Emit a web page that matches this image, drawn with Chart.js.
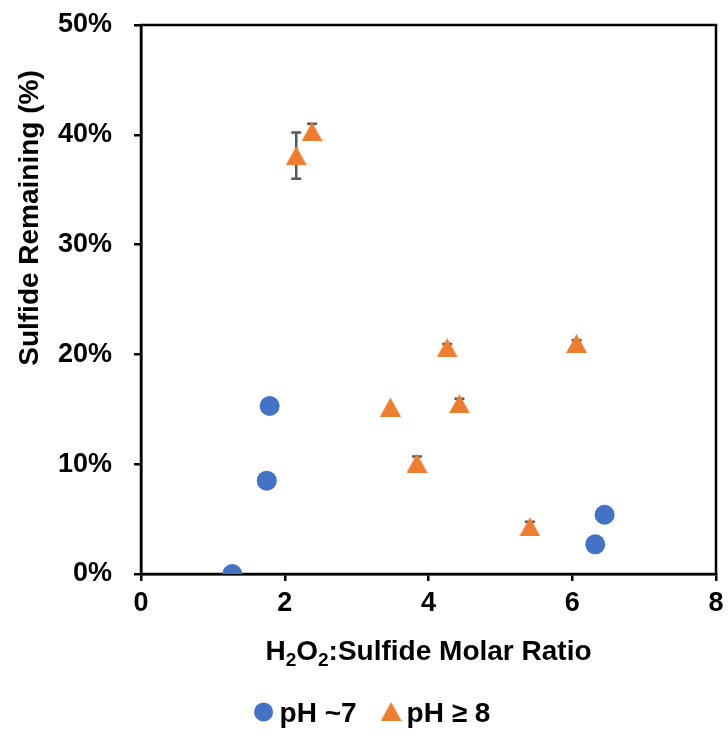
<!DOCTYPE html>
<html>
<head>
<meta charset="utf-8">
<script src="https://cdn.jsdelivr.net/npm/chart.js@4.4.0/dist/chart.umd.min.js"></script>
<style>
  html, body { margin: 0; padding: 0; background: #fff; }
</style>
</head>
<body>
<canvas id="c" width="728" height="742"></canvas>
<script>
/* ── data ── */
const SERIES_NAMES = ['pH ~7', 'pH \u2265 8'];

// pH ~7 (blue circles)
const neutralRatio  = [1.27, 1.75, 1.79, 6.32, 6.45];
const neutralRemain = [0.0, 8.5, 15.3, 2.7, 5.4];

// pH >= 8 (orange triangles)
const basicRatio  = [2.16, 2.38, 3.47, 3.84, 4.26, 4.43, 5.41, 6.06];
const basicRemain = [38.1, 40.3, 15.2, 10.1, 20.6, 15.5, 4.3, 21.0];
const basicError  = [2.1, 0.7, 0.0, 0.6, 0.35, 0.45, 0.45, 0.3];

const X_TICKS = [0, 2, 4, 6, 8];
const Y_TICKS = [0, 10, 20, 30, 40, 50];

const COLORS = {
  blue: '#4472c4',
  orange: '#ed7d31',
  err: '#595959',
  axis: '#000000',
};
const FONT = "'Liberation Sans', Arial, sans-serif";

// Excel-style triangle marker (centred on its bounding box)
function triangleMarker(w, h, color) {
  const cv = document.createElement('canvas');
  cv.width = w; cv.height = h;
  const g = cv.getContext('2d');
  g.fillStyle = color;
  g.beginPath();
  g.moveTo(w / 2, 0); g.lineTo(w, h); g.lineTo(0, h);
  g.closePath(); g.fill();
  return cv;
}
const TRI = triangleMarker(21, 19, COLORS.orange);

/* ── error bars, drawn behind the markers ── */
const errorBars = {
  id: 'errorBars',
  beforeDatasetsDraw(chart) {
    const { ctx, scales: { x, y } } = chart;
    ctx.save();
    ctx.strokeStyle = COLORS.err;
    ctx.lineWidth = 2.5;
    basicRatio.forEach((r, i) => {
      if (!basicError[i]) return;
      const px = x.getPixelForValue(r);
      const top = y.getPixelForValue(basicRemain[i] + basicError[i]);
      const bot = y.getPixelForValue(basicRemain[i] - basicError[i]);
      ctx.beginPath();
      ctx.moveTo(px, top); ctx.lineTo(px, bot);
      ctx.moveTo(px - 5, top); ctx.lineTo(px + 5, top);
      ctx.moveTo(px - 5, bot); ctx.lineTo(px + 5, bot);
      ctx.stroke();
    });
    ctx.restore();
  }
};

/* ── frame, axis titles and legend ── */
const decor = {
  id: 'decor',
  beforeDatasetsDraw(chart) {
    const { ctx, chartArea: a } = chart;
    ctx.save();
    ctx.strokeStyle = COLORS.axis;
    ctx.lineWidth = 2.5;
    ctx.strokeRect(a.left, a.top, a.right - a.left, a.bottom - a.top);
    ctx.restore();
  },
  afterDraw(chart) {
    const { ctx, chartArea: a } = chart;
    ctx.save();
    ctx.fillStyle = '#000';
    ctx.textBaseline = 'alphabetic';

    // y title
    ctx.save();
    ctx.translate(38, 218);
    ctx.rotate(-Math.PI / 2);
    ctx.font = `bold 28px ${FONT}`;
    ctx.textAlign = 'center';
    ctx.fillText('Sulfide Remaining (%)', 0, 0);
    ctx.restore();

    // x title with subscripts
    const parts = [['H', 0], ['2', 1], ['O', 0], ['2', 1], [':Sulfide Molar Ratio', 0]];
    const big = `bold 28px ${FONT}`, small = `bold 19px ${FONT}`;
    let total = 0;
    parts.forEach(([t, s]) => { ctx.font = s ? small : big; total += ctx.measureText(t).width; });
    let tx = (a.left + a.right) / 2 - total / 2;
    const base = 660;
    parts.forEach(([t, s]) => {
      ctx.font = s ? small : big;
      ctx.fillText(t, tx, s ? base + 6 : base);
      tx += ctx.measureText(t).width;
    });

    // legend
    ctx.font = `bold 28px ${FONT}`;
    const ly = 712, gap = 6, itemGap = 24, mk = 20;
    const w0 = ctx.measureText(SERIES_NAMES[0]).width;
    const w1 = ctx.measureText(SERIES_NAMES[1]).width;
    const lw = mk + gap + w0 + itemGap + mk + gap + w1;
    let lx = 372 - lw / 2;
    ctx.fillStyle = COLORS.blue;
    ctx.beginPath(); ctx.arc(lx + mk / 2, ly, 9.5, 0, Math.PI * 2); ctx.fill();
    ctx.fillStyle = '#000';
    lx += mk + gap;
    ctx.fillText(SERIES_NAMES[0], lx, ly + 10);
    lx += w0 + itemGap;
    ctx.drawImage(TRI, lx, ly - 10);
    lx += mk + gap;
    ctx.fillText(SERIES_NAMES[1], lx, ly + 10);
    ctx.restore();
  }
};

Chart.defaults.font.family = FONT;
Chart.defaults.color = '#000';

new Chart(document.getElementById('c'), {
  type: 'scatter',
  data: {
    datasets: [
      {
        label: SERIES_NAMES[0],
        data: neutralRatio.map((v, i) => ({ x: v, y: neutralRemain[i] })),
        backgroundColor: COLORS.blue,
        borderColor: COLORS.blue,
        pointStyle: 'circle',
        pointRadius: 10,
        borderWidth: 0,
      },
      {
        label: SERIES_NAMES[1],
        data: basicRatio.map((v, i) => ({ x: v, y: basicRemain[i] })),
        backgroundColor: COLORS.orange,
        borderColor: COLORS.orange,
        pointStyle: TRI,
        pointRadius: 10,
        borderWidth: 0,
      },
    ]
  },
  options: {
    responsive: false,
    animation: false,
    layout: { padding: { top: 25, right: 12, left: 0, bottom: 0 } },
    scales: {
      x: {
        type: 'linear', min: 0, max: 8,
        afterBuildTicks: s => { s.ticks = X_TICKS.map(v => ({ value: v })); },
        afterFit: s => { s.height = 168; s.paddingLeft = 0; s.paddingRight = 0; },
        border: { color: COLORS.axis, width: 2.5 },
        grid: { drawOnChartArea: false, color: COLORS.axis, lineWidth: 2.5, tickLength: 7 },
        ticks: { font: { size: 27, weight: 'bold' }, padding: 6, color: '#000' },
      },
      y: {
        type: 'linear', min: 0, max: 50,
        afterBuildTicks: s => { s.ticks = Y_TICKS.map(v => ({ value: v })); },
        afterFit: s => { s.width = 141; s.paddingTop = 0; s.paddingBottom = 0; },
        border: { color: COLORS.axis, width: 2.5 },
        grid: { drawOnChartArea: false, color: COLORS.axis, lineWidth: 2.5, tickLength: 7 },
        ticks: { font: { size: 27, weight: 'bold' }, padding: 22, color: '#000', callback: v => v + '%' },
      }
    },
    plugins: {
      legend: { display: false },
      tooltip: { enabled: false }
    }
  },
  plugins: [decor, errorBars]
});
</script>
</body>
</html>
